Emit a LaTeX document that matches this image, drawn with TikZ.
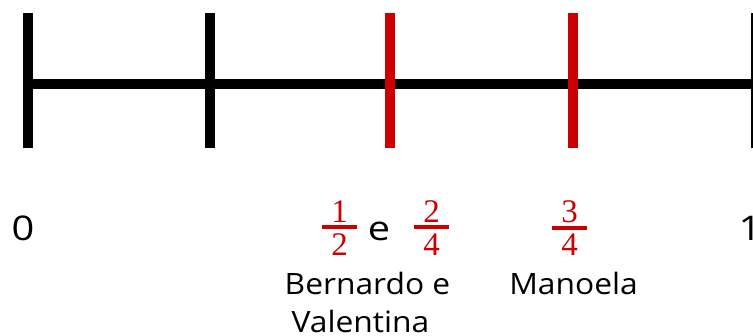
\documentclass[tikz,border=0pt]{standalone}
\usepackage{fontspec}
\setmainfont[FakeStretch=1.08]{Open Sans}
\newfontfamily\numfont[FakeStretch=1.17]{Open Sans}
\newfontfamily\fracfont{Liberation Serif}
\definecolor{fracred}{RGB}{204,0,0}
\newcommand\redfrac[2]{{\color{fracred}\fracfont\fontsize{33pt}{33pt}\selectfont
  \vbox{\hbox to 35pt{\hss#1\hss}\kern3pt\hrule height 4pt\kern4pt\hbox to 35pt{\hss#2\hss}}}}
\tikzset{
  bignum/.style={anchor=base, inner sep=0pt, font=\numfont\fontsize{34pt}{40pt}\selectfont},
  name label/.style={anchor=base, inner sep=0pt, font=\fontsize{29.4pt}{38pt}\selectfont},
  frac/.style={inner sep=0pt}
}
\begin{document}
\begin{tikzpicture}[x=1pt,y=-1pt]
\clip (0,0) rectangle (753,336);
\coordinate (orig) at (28,84);
\coordinate (one) at (756,84);
\draw [line width=10.5pt] (orig) -- (one);
\foreach \x/\c in {28/black,210/black,390/fracred,573/fracred,756/black}
  \draw [\c, line width=9.5pt] (\x,13) -- (\x,148);
\node [bignum] (zero) at (23,241) {0};
\node [bignum] (unit) at (750,241) {1};
\node [frac] (half) at (339.5,227.8) {\redfrac{1}{2}};
\node [bignum] (and) at (379,241) {e};
\node [frac] (twofourths) at (431.5,227.8) {\redfrac{2}{4}};
\node [frac] (threefourths) at (569.5,227.8) {\redfrac{3}{4}};
\node [name label] (bernardo) at (367.5,295) {Bernardo e};
\node [name label] (valentina) at (360.5,333) {Valentina};
\node [name label] (manoela) at (573.5,295) {Manoela};
\end{tikzpicture}
\end{document}
